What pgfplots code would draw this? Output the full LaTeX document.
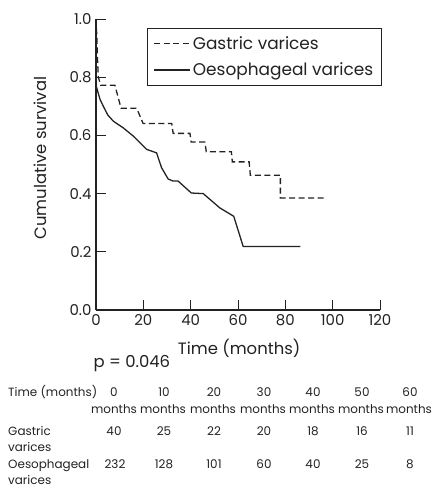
\documentclass[border=0pt]{standalone}
\usepackage{pgfplots}
\pgfplotsset{compat=1.18}
\usepackage{fontspec}
\setmainfont{Poppins}

\definecolor{ink}{HTML}{222222}

\newcommand{\legfont}{\fontsize{17}{20}\selectfont}
\newcommand{\labfont}{\fontsize{16.5}{19}\selectfont}
\newcommand{\tickfont}{\fontsize{15}{18}\selectfont}
\newcommand{\tabfont}{\fontsize{12}{14}\selectfont}

\begin{document}
\begin{tikzpicture}[color=ink]
\useasboundingbox (0,0) rectangle (432bp,-490bp);
\begin{axis}[
  at={(96bp,-310bp)}, anchor=south west,
  scale only axis, width=284bp, height=291bp,
  xmin=0, xmax=120, ymin=0, ymax=1,
  clip=false,
  axis lines=left,
  axis line style={-, line width=1.1pt, draw=ink},
  xtick={0,20,...,120},
  ytick={0,0.2,0.4,0.6,0.8,1.0},
  tick align=inside, major tick length=10bp,
  tick style={line width=1pt, draw=ink},
  /pgf/number format/assume math mode=true,
  yticklabel style={/pgf/number format/fixed, /pgf/number format/fixed zerofill,
    /pgf/number format/precision=1, font=\tickfont, xshift=-1bp},
  xticklabel style={font=\tickfont, yshift=-1bp},
  xlabel={Time (months)},
  ylabel={Cumulative survival},
  xlabel style={at={(axis description cs:0.504,-0.131)}, anchor=center, font=\labfont},
  ylabel style={at={(axis description cs:-0.197,0.522)}, anchor=center, font=\labfont},
  legend style={at={(axis description cs:0.18,0.969)}, anchor=north west,
    draw=ink, line width=0.9pt, font=\legfont, inner xsep=6bp, inner ysep=6bp,
    row sep=8bp},
  legend cell align=left,
  legend image code/.code={\draw[#1] (0bp,0bp) -- (36bp,0bp);},
]
% Kaplan-Meier estimate, gastric varices
\addplot[ink, line width=1.3pt, dash pattern=on 6bp off 3.5bp] coordinates {
  (0,1.0) (0.4,0.93) (0.7,0.85) (1.0,0.80) (2.0,0.772)
  (8.0,0.772) (10.6,0.693)
  (17.2,0.693) (19.9,0.641)
  (32.0,0.641) (32.6,0.607)
  (39.7,0.607) (40.2,0.577)
  (46.0,0.577) (46.6,0.544)
  (57.2,0.544) (57.6,0.509)
  (64.7,0.509) (65.2,0.463)
  (77.9,0.463) (77.9,0.385)
  (97.3,0.385)
};
\addlegendentry{Gastric varices}
% Kaplan-Meier estimate, oesophageal varices
\addplot[ink, line width=1.3pt] coordinates {
  (0,1.0) (0,0.772) (1.7,0.724) (3.1,0.700) (5.0,0.670) (7.3,0.649)
  (11.5,0.626) (15.7,0.598) (21.4,0.552) (23.5,0.546) (25.6,0.540)
  (27.7,0.489) (30.5,0.450) (32.6,0.443) (34.7,0.443) (40.3,0.402)
  (45.3,0.400) (52.3,0.351) (58.2,0.322) (62.2,0.218) (86.4,0.218)
};
\addlegendentry{Oesophageal varices}
\end{axis}

\node[anchor=mid west, font=\labfont] at (90bp,-365bp) {p = 0.046};

% numbers at risk
\begin{scope}[every node/.style={font=\tabfont, inner sep=0pt}]
  \node[anchor=mid west] at (8bp,-394bp) {Time (months)};
  \node[anchor=mid west] at (8bp,-433bp) {Gastric};
  \node[anchor=mid west] at (8bp,-449bp) {varices};
  \node[anchor=mid west] at (8bp,-466bp) {Oesophageal};
  \node[anchor=mid west] at (8bp,-482bp) {varices};
  \foreach \x/\v in {114/0,164/10,214/20,264/30,313/40,362/50,410/60}
    \node[anchor=mid] at (\x bp,-394bp) {\v};
  \foreach \x in {114,163,213,263,312,361,409}
    \node[anchor=mid] at (\x bp,-411bp) {months};
  \foreach \x/\v in {114/40,164/25,214/22,264/20,313/18,362/16,410/11}
    \node[anchor=mid] at (\x bp,-433bp) {\v};
  \foreach \x/\v in {115/232,164/128,214/101,264/60,313/40,362/25,410/8}
    \node[anchor=mid] at (\x bp,-466bp) {\v};
\end{scope}
\end{tikzpicture}
\end{document}
